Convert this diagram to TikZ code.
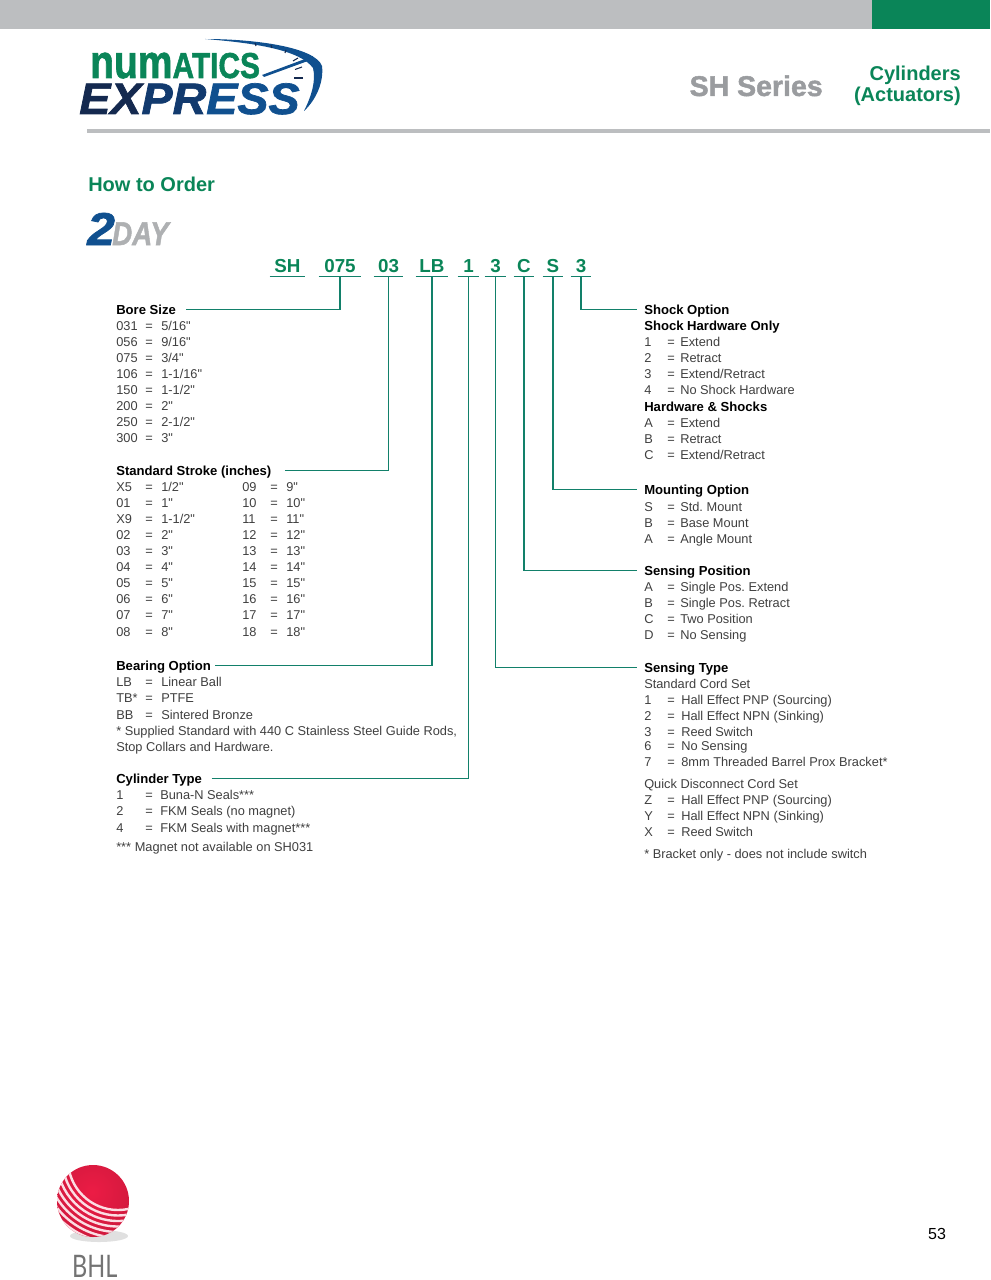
\documentclass[tikz,border=0pt]{standalone}
\usepackage{fontspec}
\setmainfont{Liberation Sans}[Ligatures=TeXOff]
\newfontfamily\heavyfont{Liberation Sans}[UprightFont=* Bold,ItalicFont=* Bold Italic,FakeBold=1.6]
\newfontfamily\bhlfont{Lato}
\usetikzlibrary{arrows.meta,positioning,calc}
\definecolor{ngreen}{HTML}{0A8558}
\definecolor{nteal}{HTML}{12806A}
\definecolor{nbar}{HTML}{BCBEC0}
\definecolor{ngrey}{HTML}{9A9C9F}
\definecolor{ntext}{HTML}{3F3F3F}
\definecolor{nnavy}{HTML}{14294F}
\definecolor{nmid}{HTML}{123A6E}
\definecolor{nblue}{HTML}{10508F}
\definecolor{nred}{HTML}{EC1C45}
\newcommand{\px}[1]{\fontsize{\fpeval{#1*0.75}}{\fpeval{#1*0.9}}\selectfont}
\newcommand{\rowstep}{16.12}
\tikzset{
  opt/.style={anchor=base west,inner sep=0pt,text=ntext,font=\frenchspacing\px{12.8}},
  hd/.style={anchor=base west,inner sep=0pt,text=black,font=\px{13.1}\bfseries,text height=7.5pt,text depth=1pt},
  code/.style={anchor=base,inner xsep=0pt,inner ysep=0pt,text=ngreen,font=\px{18.8}\bfseries,text depth=2.7pt},
  conn/.style={draw=nteal,line width=0.85pt},
  logo/.style={anchor=base west,inner sep=0pt},
}
% rows of one option block: name, x of code, x of =, x of value, first baseline, rows
\newcommand{\optrows}[6]{%
  \foreach \c/\v [count=\i from 0] in {#6}{
    \node[opt] (#1c\i) at (#2,{#5+\rowstep*\i}) {\c};
    \node[opt] (#1e\i) at (#3,{#5+\rowstep*\i}) {=};
    \node[opt] (#1v\i) at (#4,{#5+\rowstep*\i}) {\v};
  }}
\begin{document}
\begin{tikzpicture}[x=0.75pt,y=-0.75pt]
  \useasboundingbox (0,0) rectangle (990,1280);
  % page furniture
  \fill[nbar] (0,0) rectangle (872,29);
  \fill[ngreen] (872,0) rectangle (990,29);
  \fill[nbar] (87,129.5) rectangle (990,133);

  % numatics express logo
  \node[logo,text=ngreen,xscale=0.83] (numatics) at (90,78) {\heavyfont\px{47}num\px{36}ATICS};
  \node[logo,text=nblue,xscale=1.06] (express) at (79,114) {\heavyfont\itshape\px{44}{\color{nnavy}EX}{\color{nmid}PR}ESS};
  \fill[nblue] (205,39) .. controls (255,39) and (315,47) .. (322,66) .. controls (324,82) and (316,100) .. (304,111)
    .. controls (312,95) and (316,80) .. (313,68) .. controls (300,50) and (255,43) .. (205,39) -- cycle;
  \fill[nblue] (262,75) -- (313,56) -- (312,59.5) -- (264,77) -- cycle;
  \foreach \x/\y/\a/\b in {255/43/256/46,271/45/272/48,286/50/285/53,298/58/293/61,302/67/295/69.5,303/78/294/78}
    \draw[nnavy,line width=0.8pt] (\x,\y) -- (\a,\b);

  % titles
  \node[anchor=base east,inner sep=0pt,text=ngrey,font=\heavyfont\px{28.5}] (series) at (823,96) {SH Series};
  \node[anchor=base east,inner sep=0pt,text=ngreen,font=\px{20}\bfseries] (cyl) at (961,81) {Cylinders};
  \node[anchor=base east,inner sep=0pt,text=ngreen,font=\px{20}\bfseries] (act) at (961,102) {(Actuators)};
  \node[anchor=base west,inner sep=0pt,text=ngreen,font=\px{20}\bfseries] (howto) at (88,192) {How to Order};
  \node[logo,text=ngrey!80,xscale=0.84] (day) at (112,245) {\heavyfont\itshape\px{33}DAY};
  \node[logo,text=nblue,xscale=1.08] (two) at (87,245) {\heavyfont\itshape\px{46}2};

  % order code
  \foreach \nm/\txt/\xa/\xb in {csh/SH/270/305,cbore/075/319/361,cstroke/03/374/403,cbear/LB/416/448,ctype/1/458/479,csens/3/485/506,cpos/C/514/534,cmount/S/543/563,cshock/3/571/591}{
    \node[code,minimum width={(\xb-\xa)*0.75pt}] (\nm) at ({(\xa+\xb)/2},272.5) {\txt};
    \draw[conn] (\nm.south west) -- (\nm.south east);
  }

  % left column
  \node[hd] (bore) at (116,314) {Bore Size};
  \optrows{bo}{116}{145}{161}{330}{031/{5/16"},056/{9/16"},075/{3/4"},106/{1-1/16"},150/{1-1/2"},200/{2"},250/{2-1/2"},300/{3"}}
  \node[hd] (stroke) at (116,475) {Standard Stroke (inches)};
  \optrows{sa}{116}{145}{161}{491}{X5/{1/2"},01/{1"},X9/{1-1/2"},02/{2"},03/{3"},04/{4"},05/{5"},06/{6"},07/{7"},08/{8"}}
  \optrows{sb}{242}{270}{286}{491}{09/{9"},10/{10"},11/{11"},12/{12"},13/{13"},14/{14"},15/{15"},16/{16"},17/{17"},18/{18"}}
  \node[hd] (bear) at (116,670) {Bearing Option};
  \renewcommand{\rowstep}{16.5}
  \optrows{be}{116}{145}{161}{686}{LB/{Linear Ball},TB*/{PTFE},BB/{Sintered Bronze}}
  \node[opt] (bearnote) at (116,735) {* Supplied Standard with 440 C Stainless Steel Guide Rods,};
  \node[opt] (bearnotb) at (116,751) {Stop Collars and Hardware.};
  \node[hd] (type) at (116,783) {Cylinder Type};
  \renewcommand{\rowstep}{16.7}
  \optrows{ty}{116}{145}{160}{799}{1/{Buna-N Seals***},2/{FKM Seals (no magnet)},4/{FKM Seals with magnet***}}
  \renewcommand{\rowstep}{16.12}
  \node[opt] (typenote) at (116,851) {*** Magnet not available on SH031};

  % right column
  \node[hd] (shock) at (644,314) {Shock Option};
  \node[hd] (shockhw) at (644,330) {Shock Hardware Only};
  \optrows{sh}{644}{667}{680}{346.5}{1/Extend,2/Retract,3/{Extend/Retract},4/{No Shock Hardware}}
  \node[hd] (shockhs) at (644,411) {Hardware \& Shocks};
  \optrows{hs}{644}{667}{680}{427}{A/Extend,B/Retract,C/{Extend/Retract}}
  \node[hd] (mount) at (644,494) {Mounting Option};
  \optrows{mo}{644}{667}{680}{511}{S/{Std. Mount},B/{Base Mount},A/{Angle Mount}}
  \node[hd] (pos) at (644,575) {Sensing Position};
  \optrows{po}{644}{667}{680}{591}{A/{Single Pos. Extend},B/{Single Pos. Retract},C/{Two Position},D/{No Sensing}}
  \node[hd] (sens) at (644,672) {Sensing Type};
  \node[opt] (senscord) at (644,688) {Standard Cord Set};
  \optrows{st}{644}{667}{681}{704}{1/{Hall Effect PNP (Sourcing)},2/{Hall Effect NPN (Sinking)},3/{Reed Switch}}
  \optrows{su}{644}{667}{681}{750.5}{6/{No Sensing},7/{8mm Threaded Barrel Prox Bracket*}}
  \node[opt] (sensquick) at (644,788) {Quick Disconnect Cord Set};
  \optrows{sq}{644}{667}{681}{804}{Z/{Hall Effect PNP (Sourcing)},Y/{Hall Effect NPN (Sinking)},X/{Reed Switch}}
  \node[opt] (sensnote) at (644,858) {* Bracket only - does not include switch};

  % connectors
  \draw[conn,shorten <=7.5pt] (bore.east) -| (cbore.south);
  \draw[conn,shorten <=10pt] (stroke.east) -| (cstroke.south);
  \draw[conn,shorten <=3pt] (bear.east) -| (cbear.south);
  \draw[conn,shorten <=7pt] (type.east) -| (ctype.south);
  \draw[conn,shorten >=5pt] (cshock.south) |- (shock.west);
  \draw[conn,shorten >=5pt] (cmount.south) |- (mount.west);
  \draw[conn,shorten >=5pt] (cpos.south) |- (pos.west);
  \draw[conn,shorten >=5pt] (csens.south) |- (sens.west);

  % bhl mark
  \fill[black!12] (99,1236) ellipse (29 and 6);
  \begin{scope}
    \clip (93,1201) circle (36);
    \shade[inner color=nred,outer color=nred!88!black] (92,1192) circle (46);
    \foreach \r in {50,55.5,...,89}
      \draw[white!85!nred,line width=1.8pt] (118,1160) circle (\r);
  \end{scope}
  \node[logo,text=black!55,xscale=0.76] (bhl) at (72,1277) {\px{31}\bhlfont BHL};

  \node[anchor=base,inner sep=0pt,text=black,font=\px{16}] (page) at (937,1239) {53};
\end{tikzpicture}
\end{document}
